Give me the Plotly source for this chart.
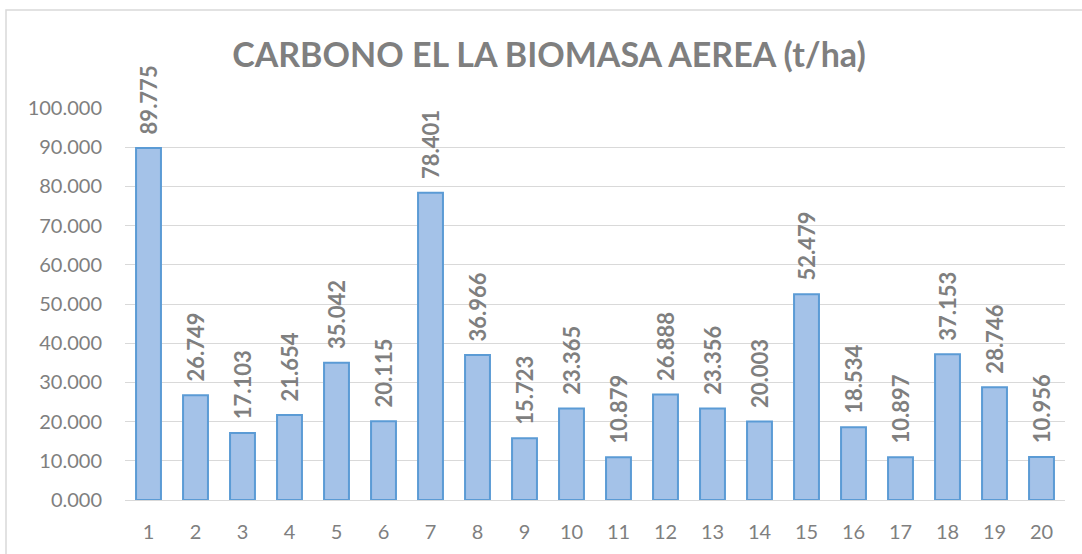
import plotly.graph_objects as go

categories = [str(i) for i in range(1, 21)]
carbono = [89.775, 26.749, 17.103, 21.654, 35.042, 20.115, 78.401, 36.966, 15.723, 23.365,
           10.879, 26.888, 23.356, 20.003, 52.479, 18.534, 10.897, 37.153, 28.746, 10.956]
labels = ["\u00a0\u00a0" + f"{v:.3f}" for v in carbono]
title_text = "CARBONO EL LA BIOMASA AEREA (t/ha)"

FONT = "Lato"
GRAY = "#7F7F7F"

L, R, T, B = 125, 17, 108, 54
PW, PH = 1082 - L - R, 554 - T - B

fig = go.Figure()
fig.add_trace(go.Bar(
    x=categories, y=carbono,
    text=labels, textposition="outside", textangle=-90,
    constraintext="none", cliponaxis=False,
    textfont=dict(family=FONT, size=22, color=GRAY, weight="bold"),
    marker=dict(color="#A4C2E8", line=dict(color="#5B9BD5", width=2)),
    hoverinfo="x+y",
))

fig.update_layout(
    width=1082, height=554,
    margin=dict(l=L, r=R, t=T, b=B),
    paper_bgcolor="white", plot_bgcolor="white",
    bargap=0.47,
    showlegend=False,
    title=dict(text=title_text, x=549/1082, xanchor="center", y=1-55/554, yanchor="middle",
               font=dict(family=FONT, size=34, color=GRAY, weight="bold")),
    font=dict(family=FONT, color=GRAY),
    xaxis=dict(type="category", showgrid=False, showline=True, linecolor="#D9D9D9", linewidth=1,
               ticks="", tickfont=dict(family=FONT, size=20, color=GRAY), ticklabelstandoff=14),
    yaxis=dict(range=[0, 100], dtick=10, tickformat=".3f", showgrid=True, gridcolor="#D9D9D9",
               gridwidth=1, zeroline=False, showline=False, ticks="",
               tickfont=dict(family=FONT, size=20, color=GRAY), ticklabelstandoff=22),
    shapes=[dict(type="rect", xref="paper", yref="paper",
                 x0=(6-L)/PW, x1=(1100-L)/PW, y0=(T+PH-570)/PH, y1=(T+PH-10)/PH,
                 line=dict(color="#D9D9D9", width=1.5), fillcolor="rgba(0,0,0,0)", layer="below")],
)

fig.write_html("out.html", config={"displayModeBar": False},
               post_script="document.body.style.margin='0px';")
